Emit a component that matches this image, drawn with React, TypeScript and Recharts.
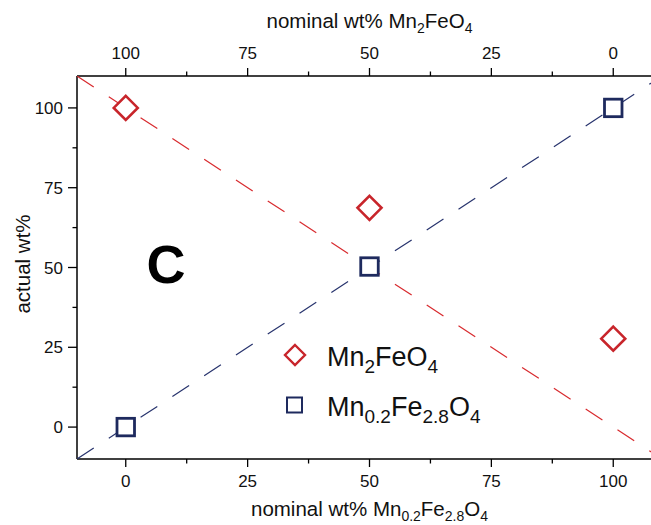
import React from 'react';
import { ScatterChart, Scatter, XAxis, YAxis, Legend } from 'recharts';

// ---------- data ----------
const axisTicks = [0, 12.5, 25, 37.5, 50, 62.5, 75, 87.5, 100];
const majorTicks = [0, 25, 50, 75, 100];
const axisDomain = [-10, 110];

const mn2FeO4Points = [
  { x: 0, y: 100 },
  { x: 50, y: 68.7 },
  { x: 100, y: 27.7 },
];
const mn02Points = [
  { x: 0, y: 0 },
  { x: 50, y: 50.3 },
  { x: 100, y: 100 },
];
// ideal (nominal = actual) guide lines
const mn2FeO4Guide = [
  { x: -10, y: 110 },
  { x: 110, y: -10 },
];
const mn02Guide = [
  { x: -10, y: -10 },
  { x: 110, y: 110 },
];
const legendOrder = ['Mn2FeO4', 'Mn02Fe28O4'];

const RED = '#c8252b';
const RED_LINE = '#d82a2e';
const NAVY = '#1e2a5e';
const NAVY_LINE = '#27336d';
const FONT = '"Liberation Sans", Arial, Helvetica, sans-serif';

const isMajor = (v: number) => majorTicks.includes(v);

const BottomTick = (props: any) => {
  const { x, y, payload } = props;
  const v = payload.value;
  const major = isMajor(v);
  return (
    <g>
      <line x1={x} y1={y} x2={x} y2={y + (major ? 8 : 4.5)} stroke="#000" strokeWidth={1.3} />
      {major && (
        <text x={x} y={y + 28} textAnchor="middle" fontSize={17} fontFamily={FONT} fill="#111">
          {v}
        </text>
      )}
    </g>
  );
};

const TopTick = (props: any) => {
  const { x, y, payload } = props;
  const v = payload.value;
  const major = isMajor(v);
  return (
    <g>
      <line x1={x} y1={y} x2={x} y2={y - (major ? 8 : 4.5)} stroke="#000" strokeWidth={1.3} />
      {major && (
        <text x={x} y={y - 17.5} textAnchor="middle" fontSize={17} fontFamily={FONT} fill="#111">
          {v}
        </text>
      )}
    </g>
  );
};

const LeftTick = (props: any) => {
  const { x, y, payload } = props;
  const v = payload.value;
  const major = isMajor(v);
  return (
    <g>
      <line x1={x} y1={y} x2={x - (major ? 9 : 4.5)} y2={y} stroke="#000" strokeWidth={1.3} />
      {major && (
        <text x={x - 14} y={y + 6} textAnchor="end" fontSize={17} fontFamily={FONT} fill="#111">
          {v}
        </text>
      )}
    </g>
  );
};

const Diamond = (props: any) => {
  const { cx, cy } = props;
  const r = 12;
  return (
    <polygon
      points={`${cx},${cy - r} ${cx + r},${cy} ${cx},${cy + r} ${cx - r},${cy}`}
      fill="#fff"
      stroke={RED}
      strokeWidth={2.6}
    />
  );
};

const Square = (props: any) => {
  const { cx, cy } = props;
  const s = 17.5;
  return <rect x={cx - s / 2} y={cy - s / 2} width={s} height={s} fill="#fff" stroke={NAVY} strokeWidth={2.8} />;
};

const NoShape = () => <g />;

const SUB = 19;
const legendLabels: Record<string, React.ReactNode> = {
  Mn2FeO4: (
    <>
      <tspan>Mn</tspan>
      <tspan fontSize={SUB} dy={7}>2</tspan>
      <tspan dy={-7}>FeO</tspan>
      <tspan fontSize={SUB} dy={7}>4</tspan>
    </>
  ),
  Mn02Fe28O4: (
    <>
      <tspan>Mn</tspan>
      <tspan fontSize={SUB} dy={7}>0.2</tspan>
      <tspan dy={-7}>Fe</tspan>
      <tspan fontSize={SUB} dy={7}>2.8</tspan>
      <tspan dy={-7}>O</tspan>
      <tspan fontSize={SUB} dy={7}>4</tspan>
    </>
  ),
};

const renderLegend = (props: any) => {
  const payload = (props.payload || [])
    .filter((p: any) => legendLabels[p.value])
    .sort((a: any, b: any) => legendOrder.indexOf(a.value) - legendOrder.indexOf(b.value));
  return (
    <svg width={260} height={100} style={{ display: 'block' }}>
      {payload.map((p: any, i: number) => {
        const cy = 25 + i * 50;
        const isDiamond = p.value === 'Mn2FeO4';
        return (
          <g key={p.value}>
            {isDiamond ? (
              <polygon
                points={`15,${cy - 10} 25,${cy} 15,${cy + 10} 5,${cy}`}
                fill="#fff"
                stroke={RED}
                strokeWidth={2.4}
              />
            ) : (
              <rect x={7} y={cy - 7.5} width={15} height={15} fill="#fff" stroke={NAVY} strokeWidth={2} />
            )}
            <text x={47} y={cy + 11} fontSize={27} fontFamily={FONT} fill="#111">
              {legendLabels[p.value]}
            </text>
          </g>
        );
      })}
    </svg>
  );
};

const TS = 20.5;
const TSUB = 14;

const BottomTitle = (props: any) => {
  const vb = props.viewBox || { x: 77, y: 459, width: 585, height: 66 };
  const cx = vb.x + vb.width / 2;
  return (
    <text x={cx} y={vb.y + 57} textAnchor="middle" fontSize={TS} fontFamily={FONT} fill="#111">
      <tspan>nominal wt% Mn</tspan>
      <tspan fontSize={TSUB} dy={5}>0.2</tspan>
      <tspan dy={-5}>Fe</tspan>
      <tspan fontSize={TSUB} dy={5}>2.8</tspan>
      <tspan dy={-5}>O</tspan>
      <tspan fontSize={TSUB} dy={5}>4</tspan>
    </text>
  );
};

const TopTitle = (props: any) => {
  const vb = props.viewBox || { x: 77, y: 0, width: 585, height: 76 };
  const cx = vb.x + vb.width / 2;
  return (
    <text x={cx} y={28} textAnchor="middle" fontSize={TS} fontFamily={FONT} fill="#111">
      <tspan>nominal wt% Mn</tspan>
      <tspan fontSize={TSUB} dy={5}>2</tspan>
      <tspan dy={-5}>FeO</tspan>
      <tspan fontSize={TSUB} dy={5}>4</tspan>
    </text>
  );
};

const LeftTitle = () => (
  <text
    x={30}
    y={264}
    transform="rotate(-90 30 264)"
    textAnchor="middle"
    fontSize={TS}
    fontFamily={FONT}
    fill="#111"
  >
    actual wt%
  </text>
);

export default function App() {
  return (
    <div style={{ position: 'absolute', left: 0, top: 0, width: 651, height: 525, overflow: 'hidden', background: '#fff' }}>
      <ScatterChart width={662} height={525} margin={{ top: 0, right: 0, bottom: 0, left: 0 }}>
        <XAxis
          xAxisId="bottom"
          orientation="bottom"
          type="number"
          dataKey="x"
          domain={axisDomain}
          ticks={axisTicks}
          allowDataOverflow
          height={66}
          tickSize={0}
          tickMargin={0}
          tick={BottomTick}
          tickLine={false}
          axisLine={{ stroke: '#000', strokeWidth: 1.5 }}
          interval={0}
          label={{ content: BottomTitle }}
        />
        <XAxis
          xAxisId="top"
          orientation="top"
          type="number"
          dataKey="x"
          domain={axisDomain}
          ticks={axisTicks}
          reversed
          allowDataOverflow
          height={76}
          tickSize={0}
          tickMargin={0}
          tick={TopTick}
          tickLine={false}
          axisLine={{ stroke: '#000', strokeWidth: 1.5 }}
          interval={0}
          label={{ content: TopTitle }}
        />
        <YAxis
          type="number"
          dataKey="y"
          domain={axisDomain}
          ticks={axisTicks}
          allowDataOverflow
          width={77}
          tickSize={0}
          tickMargin={0}
          tick={LeftTick}
          tickLine={false}
          axisLine={{ stroke: '#000', strokeWidth: 1.5 }}
          interval={0}
          label={{ content: LeftTitle }}
        />
        {/* invisible series bound to the top (reversed) axis so it builds its ticks */}
        <Scatter
          xAxisId="top"
          name="topAxisAnchor"
          data={mn2FeO4Guide}
          shape={NoShape}
          legendType="none"
          isAnimationActive={false}
        />
        <Scatter
          xAxisId="bottom"
          name="guide1"
          data={mn2FeO4Guide}
          fill={RED_LINE}
          line={{ stroke: RED_LINE, strokeWidth: 1.2, strokeDasharray: '20 18' }}
          shape={NoShape}
          legendType="none"
          isAnimationActive={false}
        />
        <Scatter
          xAxisId="bottom"
          name="guide2"
          data={mn02Guide}
          fill={NAVY_LINE}
          line={{ stroke: NAVY_LINE, strokeWidth: 1.2, strokeDasharray: '20 18' }}
          shape={NoShape}
          legendType="none"
          isAnimationActive={false}
        />
        <Scatter
          xAxisId="bottom"
          name="Mn2FeO4"
          data={mn2FeO4Points}
          fill={RED}
          shape={Diamond}
          isAnimationActive={false}
        />
        <Scatter
          xAxisId="bottom"
          name="Mn02Fe28O4"
          data={mn02Points}
          fill={NAVY}
          shape={Square}
          isAnimationActive={false}
        />
        <Legend
          layout="horizontal"
          verticalAlign="middle"
          align="center"
          content={renderLegend}
          wrapperStyle={{ position: 'absolute', left: 280, top: 330, width: 260, height: 100 }}
        />
      </ScatterChart>
      <svg width={651} height={525} style={{ position: 'absolute', left: 0, top: 0, pointerEvents: 'none' }}>
        <text x={166} y={283} textAnchor="middle" fontSize={54} fontWeight="bold" fontFamily={FONT} fill="#000">
          C
        </text>
      </svg>
    </div>
  );
}
